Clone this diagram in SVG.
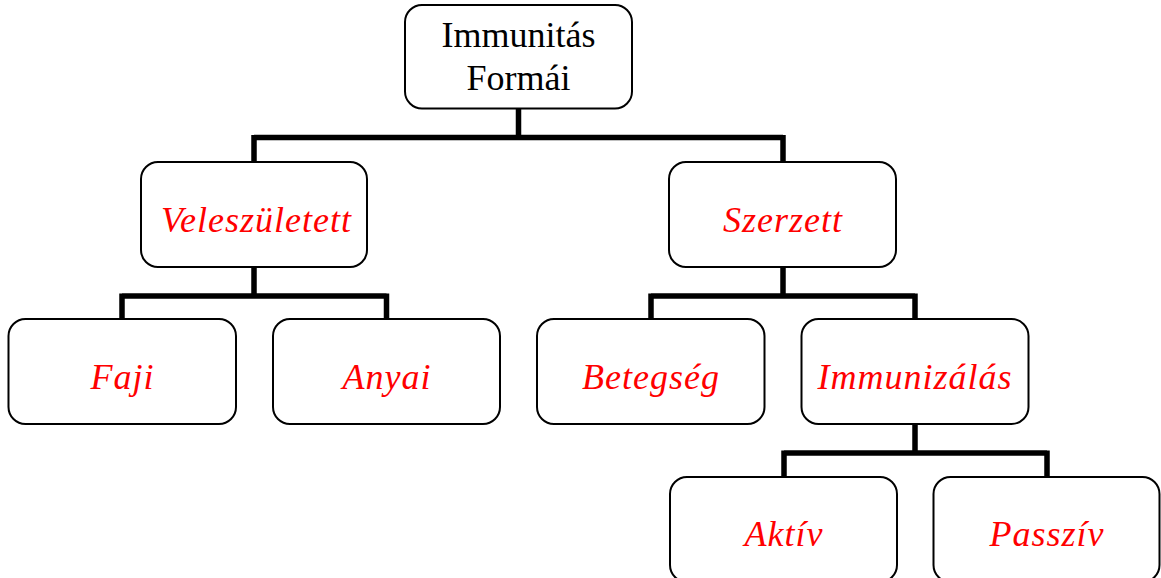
<svg xmlns="http://www.w3.org/2000/svg" width="1161" height="578" viewBox="0 0 1161 578">
<style>
.box{fill:#fff;stroke:#000;stroke-width:2}
.lbl{font-family:"Liberation Serif","Times New Roman",serif;font-size:36px;font-style:italic;fill:#ff0000;text-anchor:middle;letter-spacing:1px}
.root{font-family:"Liberation Serif","Times New Roman",serif;font-size:36px;fill:#000;text-anchor:middle}
.conn{fill:none;stroke:#000;stroke-width:5.5;stroke-linejoin:miter;stroke-linecap:butt}
</style>
<rect width="1161" height="578" fill="#fff"/>
<g id="connectors">
<path class="conn" d="M518.5,108 V137.5 M254,137.5 H783 M254,135 V162 M783,135 V162"/>
<path class="conn" d="M254,267 V296 M122,296 H386.5 M122,293.5 V319 M386.5,293.5 V319"/>
<path class="conn" d="M783,267 V296 M651,296 H915 M651,293.5 V319 M915,293.5 V319"/>
<path class="conn" d="M915,424 V453 M784,453 H1047 M784,450.5 V477 M1047,450.5 V477"/>
</g>
<g id="node-root">
<rect class="box" x="405" y="5" width="227" height="103.5" rx="17"/>
<text class="root" x="518.5" y="47">Immunitás</text>
<text class="root" x="518.5" y="90">Formái</text>
</g>
<g id="node-veleszuletett">
<rect class="box" x="141" y="162" width="226" height="105" rx="17"/>
<text class="lbl" x="256.5" y="232">Veleszületett</text>
</g>
<g id="node-szerzett">
<rect class="box" x="669" y="162" width="227" height="105" rx="17"/>
<text class="lbl" x="783" y="232">Szerzett</text>
</g>
<g id="node-faji">
<rect class="box" x="8.5" y="319" width="227.5" height="105" rx="17"/>
<text class="lbl" x="122.5" y="389">Faji</text>
</g>
<g id="node-anyai">
<rect class="box" x="273" y="319" width="227" height="105" rx="17"/>
<text class="lbl" x="387" y="389">Anyai</text>
</g>
<g id="node-betegseg">
<rect class="box" x="537" y="319" width="227.5" height="105" rx="17"/>
<text class="lbl" x="651" y="389">Betegség</text>
</g>
<g id="node-immunizalas">
<rect class="box" x="801.5" y="319" width="227" height="105" rx="17"/>
<text class="lbl" x="915" y="389">Immunizálás</text>
</g>
<g id="node-aktiv">
<rect class="box" x="670" y="477" width="227" height="105" rx="17"/>
<text class="lbl" x="784" y="546">Aktív</text>
</g>
<g id="node-passziv">
<rect class="box" x="933.5" y="477" width="226" height="105" rx="17"/>
<text class="lbl" x="1047" y="546">Passzív</text>
</g>
</svg>
